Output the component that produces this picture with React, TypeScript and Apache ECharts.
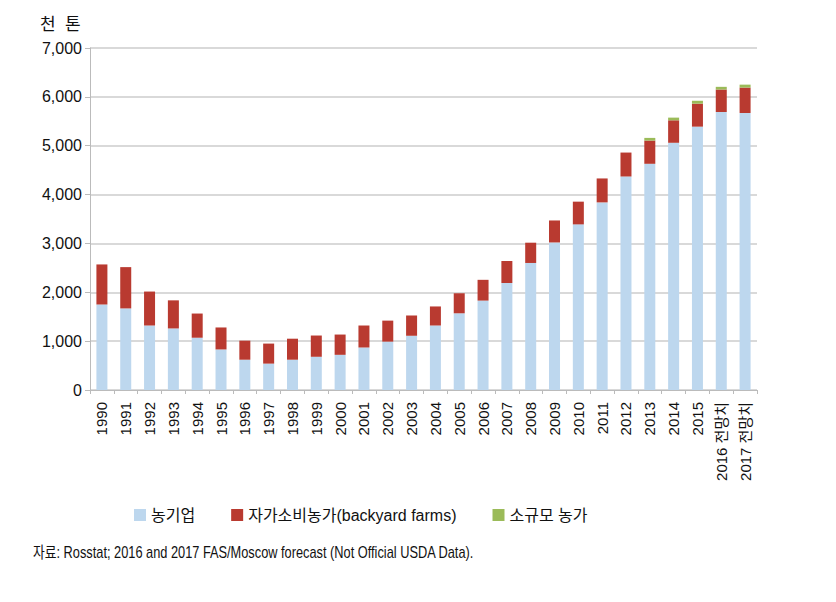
import React, { useEffect, useRef } from "react";
import * as echarts from "echarts";

const categories = [
  "1990", "1991", "1992", "1993", "1994", "1995", "1996", "1997", "1998", "1999",
  "2000", "2001", "2002", "2003", "2004", "2005", "2006", "2007", "2008", "2009",
  "2010", "2011", "2012", "2013", "2014", "2015", "2016 전망치", "2017 전망치",
];
const agroEnterprises = [
  1750, 1670, 1320, 1260, 1070, 830, 620, 540, 620, 680,
  720, 870, 990, 1110, 1320, 1570, 1830, 2190, 2600, 3020,
  3390, 3840, 4370, 4630, 5060, 5390, 5690, 5670,
];
const backyardFarms = [
  820, 845, 695, 575, 495, 450, 390, 410, 430, 435,
  415, 450, 430, 415, 390, 410, 425, 450, 415, 450,
  465, 490, 490, 475, 460, 470, 460, 520,
];
const smallFarms = [
  0, 0, 0, 0, 0, 0, 0, 0, 0, 0,
  0, 0, 0, 0, 0, 0, 0, 0, 0, 0,
  0, 0, 0, 55, 55, 60, 55, 60,
];
const seriesNames = ["농기업", "자가소비농가(backyard farms)", "소규모 농가"];
const yTicks = { min: 0, max: 7000, interval: 1000 };

const FONT = "'Liberation Sans', 'Noto Sans CJK KR', sans-serif";

export default function App() {
  const ref = useRef<HTMLDivElement>(null);
  useEffect(() => {
    if (!ref.current) return;
    const chart = echarts.init(ref.current, null, { renderer: "svg" });
    chart.setOption({
      animation: false,
      textStyle: { fontFamily: FONT },
      grid: { left: 82, right: 71, top: 40, bottom: 204, containLabel: false },
      legend: {
        bottom: 66,
        left: 121,
        itemWidth: 12,
        itemHeight: 12,
        itemGap: 36,
        icon: "rect",
        textStyle: { fontSize: 16, color: "#111", fontFamily: FONT },
        data: seriesNames,
      },
      graphic: [
        {
          type: "text",
          left: 32,
          top: 8,
          style: { text: "천  톤", fontSize: 17, fill: "#111", fontFamily: FONT },
        },
        {
          type: "text",
          x: 25,
          y: 536,
          scaleX: 0.8,
          style: {
            text: "자료: Rosstat; 2016 and 2017 FAS/Moscow forecast (Not Official USDA Data).",
            fontSize: 16,
            fill: "#111",
            fontFamily: FONT,
          },
        },
      ],
      xAxis: {
        type: "category",
        data: categories,
        axisLine: { lineStyle: { color: "#bbbbbb", width: 1 } },
        axisTick: { show: true, alignWithLabel: false, length: 4, lineStyle: { color: "#bbbbbb" } },
        axisLabel: {
          rotate: 90,
          interval: 0,
          margin: 12,
          fontSize: 15,
          color: "#111",
          fontFamily: FONT,
        },
      },
      yAxis: {
        type: "value",
        min: yTicks.min,
        max: yTicks.max,
        interval: yTicks.interval,
        axisLine: { show: true, lineStyle: { color: "#bbbbbb" } },
        axisTick: { show: true, length: 5, lineStyle: { color: "#bbbbbb" } },
        axisLabel: {
          fontSize: 16,
          color: "#111",
          margin: 8,
          fontFamily: FONT,
          formatter: (v: number) => v.toLocaleString("en-US"),
        },
        splitLine: { lineStyle: { color: "#cccccc", width: 1.5 } },
      },
      series: [
        {
          name: seriesNames[0],
          type: "bar",
          stack: "total",
          barWidth: 11,
          itemStyle: { color: "#bdd7ee" },
          data: agroEnterprises,
        },
        {
          name: seriesNames[1],
          type: "bar",
          stack: "total",
          barWidth: 11,
          itemStyle: { color: "#b93a30" },
          data: backyardFarms,
        },
        {
          name: seriesNames[2],
          type: "bar",
          stack: "total",
          barWidth: 11,
          itemStyle: { color: "#9bbb59" },
          data: smallFarms,
        },
      ],
    });
    return () => chart.dispose();
  }, []);
  return <div ref={ref} style={{ width: 820, height: 586 }} />;
}
